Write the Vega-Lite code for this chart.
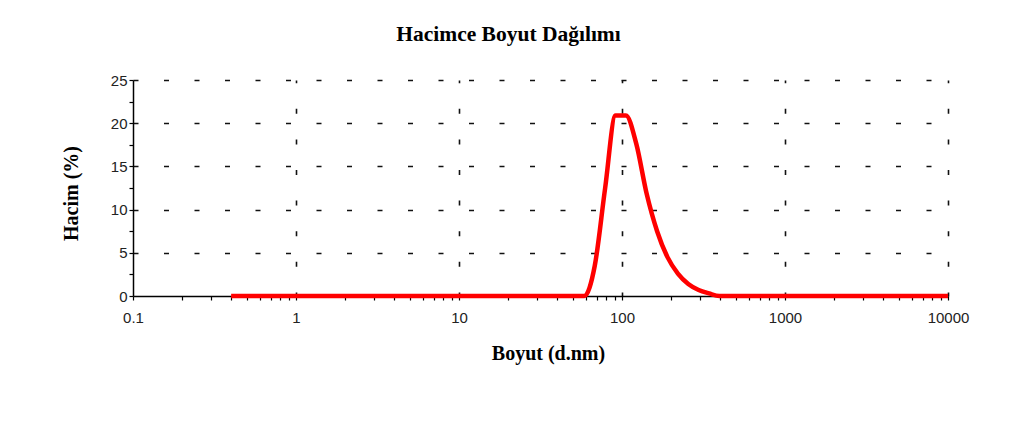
{
  "$schema": "https://vega.github.io/schema/vega-lite/v6.json",
  "autosize": {"type": "none"},
  "width": 815,
  "height": 216,
  "padding": {"left": 133, "top": 80, "right": 76, "bottom": 147},
  "background": "white",
  "title": {
    "text": "Hacimce Boyut Dağılımı",
    "font": "Liberation Serif",
    "fontSize": 21.5,
    "fontWeight": "bold",
    "color": "#000000",
    "anchor": "middle",
    "dx": -32,
    "baseline": "alphabetic",
    "offset": 11
  },
  "data": {
    "values": [
      {"size": 0.4, "volume": 0}, {"size": 0.4632, "volume": 0}, {"size": 0.5365, "volume": 0},
      {"size": 0.6213, "volume": 0}, {"size": 0.7195, "volume": 0}, {"size": 0.8332, "volume": 0},
      {"size": 0.9649, "volume": 0}, {"size": 1.117, "volume": 0}, {"size": 1.294, "volume": 0},
      {"size": 1.499, "volume": 0}, {"size": 1.736, "volume": 0}, {"size": 2.01, "volume": 0},
      {"size": 2.328, "volume": 0}, {"size": 2.696, "volume": 0}, {"size": 3.122, "volume": 0},
      {"size": 3.615, "volume": 0}, {"size": 4.187, "volume": 0}, {"size": 4.849, "volume": 0},
      {"size": 5.615, "volume": 0}, {"size": 6.503, "volume": 0}, {"size": 7.531, "volume": 0},
      {"size": 8.721, "volume": 0}, {"size": 10.1, "volume": 0}, {"size": 11.7, "volume": 0},
      {"size": 13.54, "volume": 0}, {"size": 15.69, "volume": 0}, {"size": 18.17, "volume": 0},
      {"size": 21.04, "volume": 0}, {"size": 24.36, "volume": 0}, {"size": 28.21, "volume": 0},
      {"size": 32.67, "volume": 0}, {"size": 37.84, "volume": 0}, {"size": 43.82, "volume": 0},
      {"size": 50.75, "volume": 0}, {"size": 58.77, "volume": 0}, {"size": 68.06, "volume": 3.5},
      {"size": 78.82, "volume": 12.5}, {"size": 91.28, "volume": 20.9}, {"size": 105.7, "volume": 20.9},
      {"size": 122.4, "volume": 17.6}, {"size": 141.8, "volume": 11.8}, {"size": 164.2, "volume": 7.5},
      {"size": 190.1, "volume": 4.5}, {"size": 220.2, "volume": 2.6}, {"size": 255.0, "volume": 1.4},
      {"size": 295.3, "volume": 0.7}, {"size": 342.0, "volume": 0.3}, {"size": 396.1, "volume": 0},
      {"size": 458.7, "volume": 0}, {"size": 531.2, "volume": 0}, {"size": 615.1, "volume": 0},
      {"size": 712.4, "volume": 0}, {"size": 825.0, "volume": 0}, {"size": 955.4, "volume": 0},
      {"size": 1106, "volume": 0}, {"size": 1281, "volume": 0}, {"size": 1484, "volume": 0},
      {"size": 1718, "volume": 0}, {"size": 1990, "volume": 0}, {"size": 2305, "volume": 0},
      {"size": 2669, "volume": 0}, {"size": 3091, "volume": 0}, {"size": 3580, "volume": 0},
      {"size": 4145, "volume": 0}, {"size": 4801, "volume": 0}, {"size": 5560, "volume": 0},
      {"size": 6439, "volume": 0}, {"size": 7456, "volume": 0}, {"size": 8635, "volume": 0},
      {"size": 10000, "volume": 0}
    ]
  },
  "mark": {"type": "line", "color": "#ff0000", "strokeWidth": 4.5, "interpolate": "monotone"},
  "encoding": {
    "x": {
      "field": "size",
      "type": "quantitative",
      "scale": {"type": "log", "domain": [0.1, 10000], "nice": false},
      "axis": {
        "values": [0.1, 0.2, 0.3, 0.4, 0.5, 0.6, 0.7, 0.8, 0.9, 1, 2, 3, 4, 5, 6, 7, 8, 9, 10, 20, 30, 40, 50, 60, 70, 80, 90, 100, 200, 300, 400, 500, 600, 700, 800, 900, 1000, 2000, 3000, 4000, 5000, 6000, 7000, 8000, 9000, 10000],
        "labelExpr": "indexof([0.1, 1, 10, 100, 1000, 10000], datum.value) >= 0 ? '' + datum.value : ''",
        "labelFont": "Liberation Sans",
        "labelFontSize": 15,
        "labelColor": "#222222",
        "labelPadding": 10,
        "labelOverlap": false,
        "labelFlush": false,
        "labelBound": false,
        "tickSize": 4,
        "tickColor": "#000000",
        "tickWidth": 1.2,
        "domainColor": "#000000",
        "domainWidth": 1.5,
        "grid": true,
        "gridColor": "#111111",
        "gridWidth": 1.6,
        "gridDash": [5, 25.6],
        "gridDashOffset": 2.3,
        "gridOpacity": {"condition": {"test": "indexof([1, 10, 100, 1000, 10000], datum.value) >= 0", "value": 1}, "value": 0},
        "title": "Boyut (d.nm)",
        "titleFont": "Liberation Serif",
        "titleFontSize": 20,
        "titleFontWeight": "bold",
        "titleColor": "#000000",
        "titleX": 415,
        "titleY": 63,
        "titleBaseline": "alphabetic"
      }
    },
    "y": {
      "field": "volume",
      "type": "quantitative",
      "scale": {"domain": [0, 25], "nice": false},
      "axis": {
        "values": [0, 2.5, 5, 7.5, 10, 12.5, 15, 17.5, 20, 22.5, 25],
        "labelExpr": "datum.value % 5 === 0 ? '' + datum.value : ''",
        "labelFont": "Liberation Sans",
        "labelFontSize": 15,
        "labelColor": "#222222",
        "labelPadding": 2,
        "labelOverlap": false,
        "labelFlush": false,
        "labelBound": false,
        "tickSize": 4,
        "tickColor": "#000000",
        "tickWidth": 1.2,
        "domainColor": "#000000",
        "domainWidth": 1.5,
        "grid": true,
        "gridColor": "#111111",
        "gridWidth": 1.6,
        "gridDash": [5, 25.5],
        "gridDashOffset": 0,
        "gridOpacity": {"condition": {"test": "datum.value % 5 === 0 && datum.value > 0", "value": 1}, "value": 0},
        "title": "Hacim (%)",
        "titleFont": "Liberation Serif",
        "titleFontSize": 20,
        "titleFontWeight": "bold",
        "titleColor": "#000000",
        "titleX": -56,
        "titleY": 113,
        "titleBaseline": "alphabetic"
      }
    }
  },
  "config": {"view": {"stroke": null}}
}
